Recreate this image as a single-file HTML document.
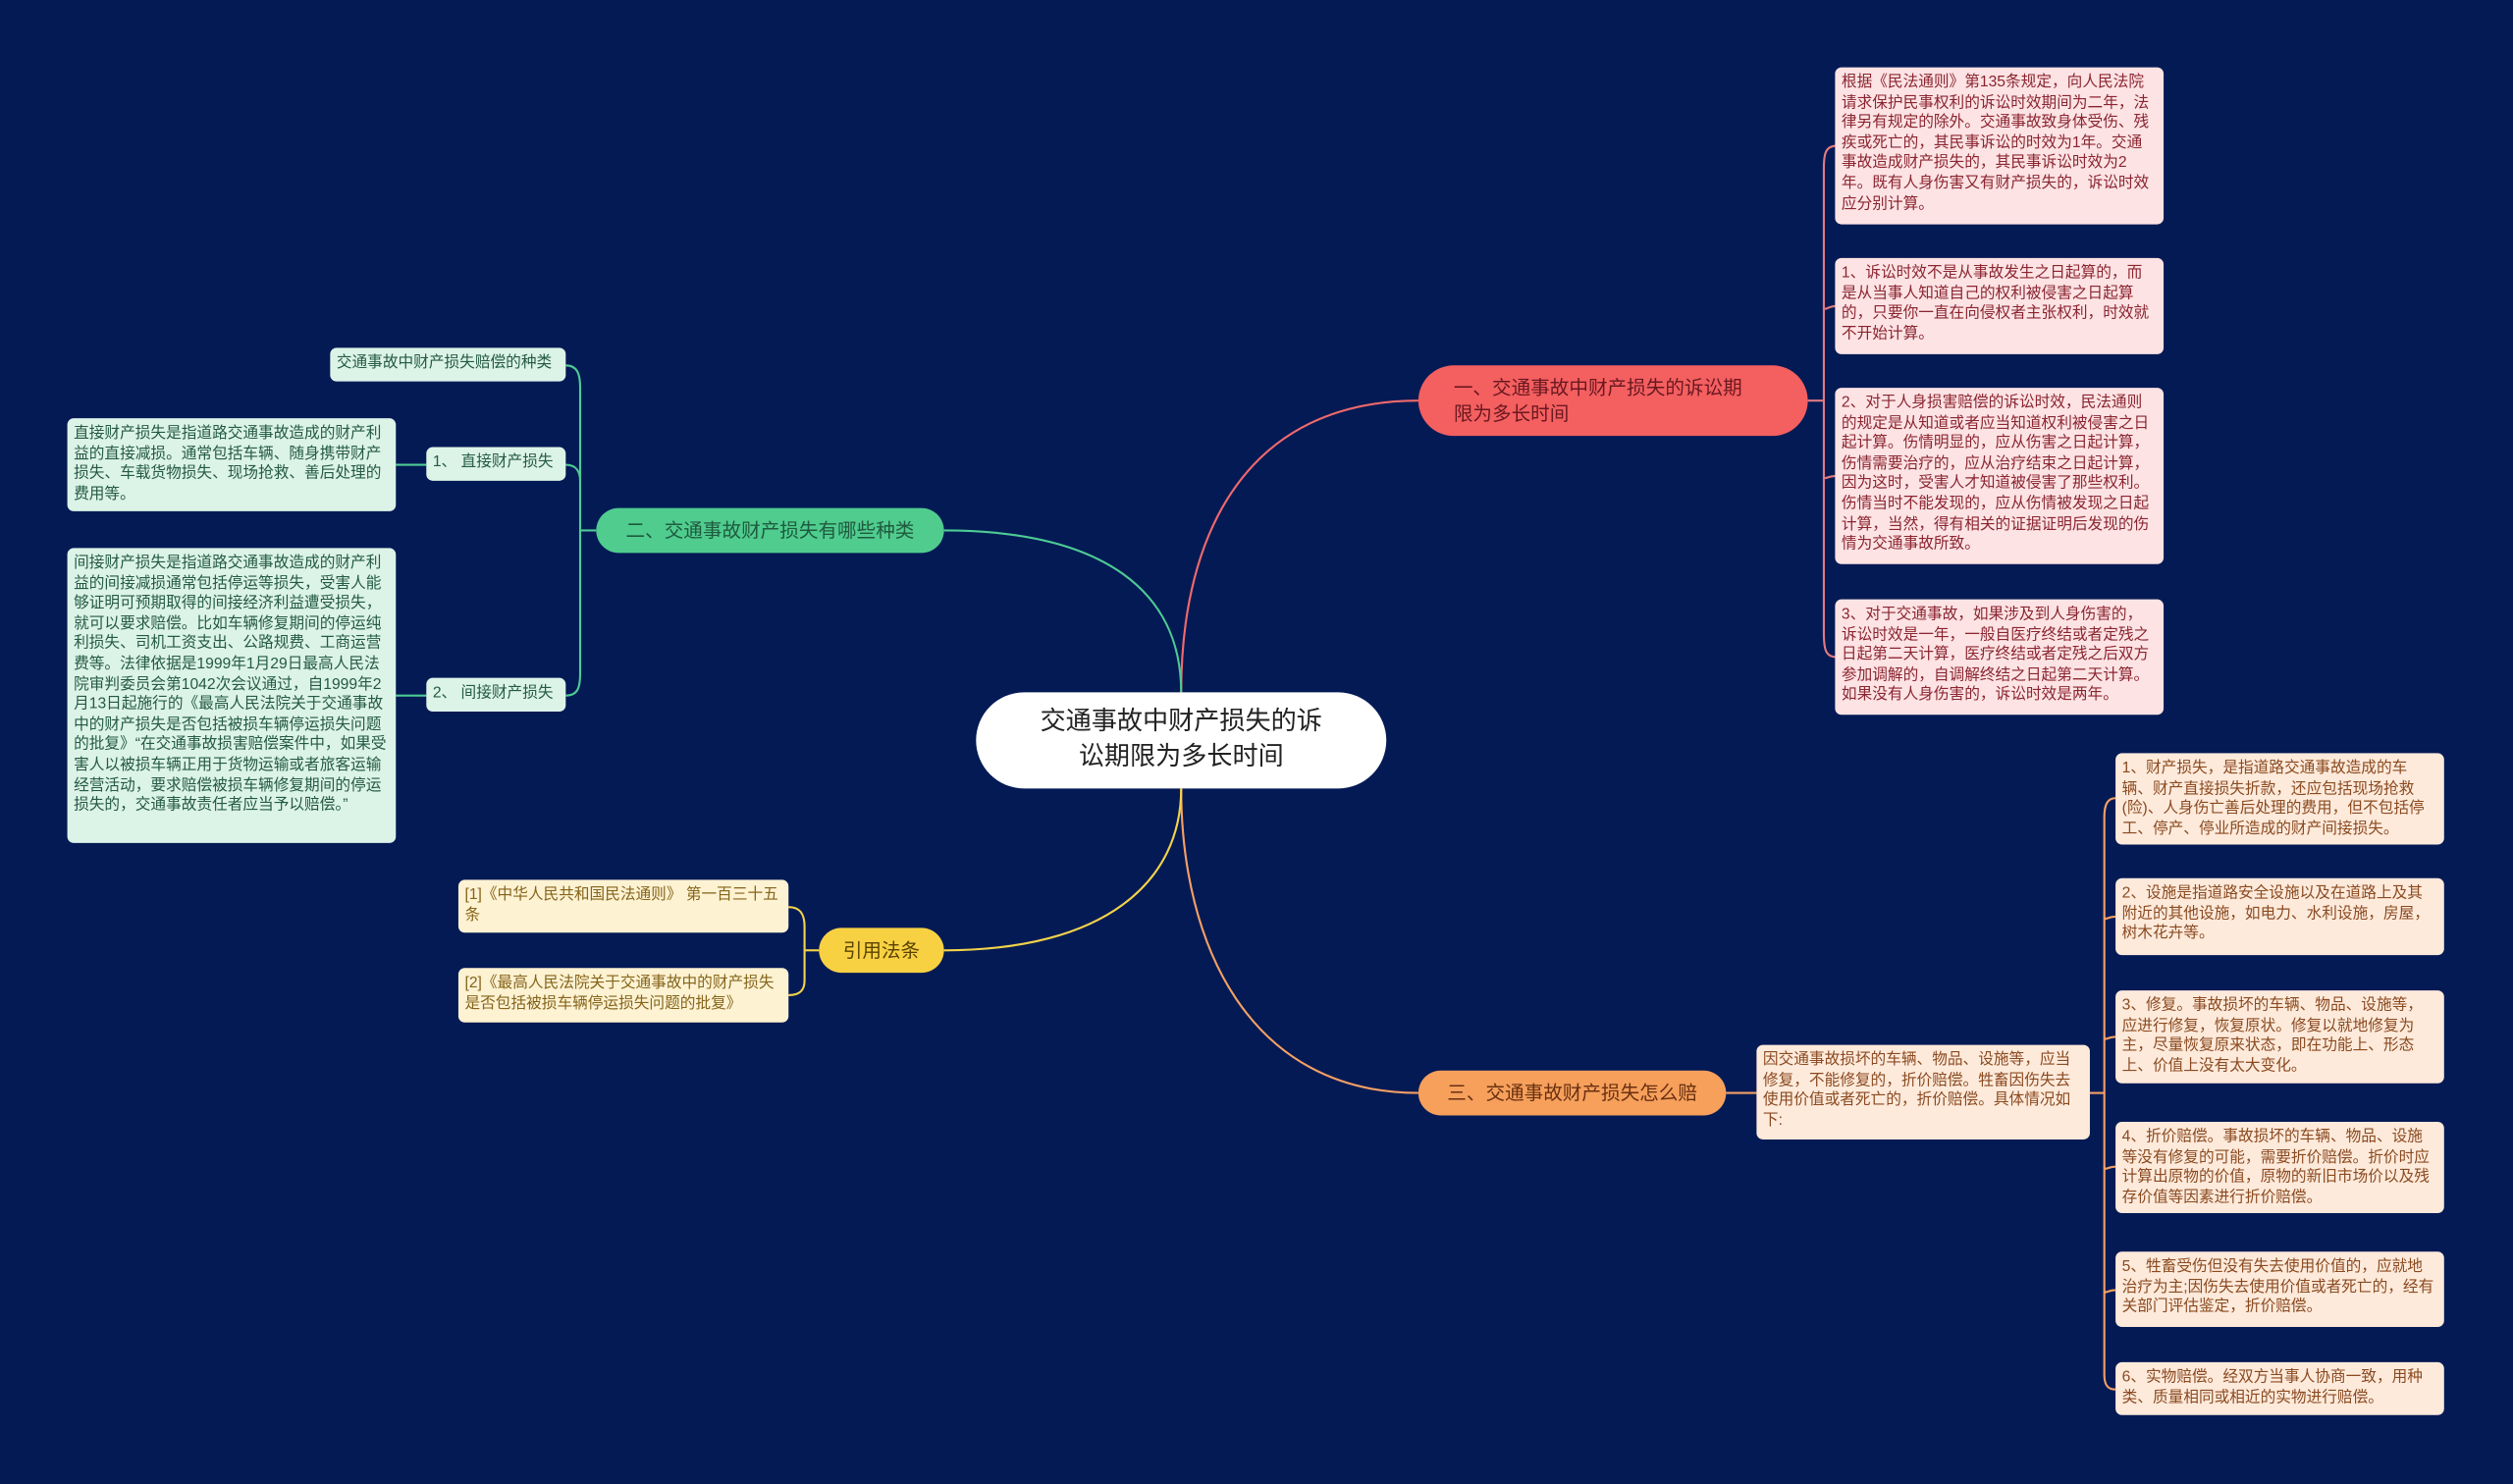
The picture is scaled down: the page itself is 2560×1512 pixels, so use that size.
<!DOCTYPE html>
<html><head><meta charset="utf-8"><style>
html,body{margin:0;padding:0;background:#041a55;}
body{width:2560px;height:1512px;overflow:hidden;}
#w{position:absolute;left:0;top:0;width:1568px;height:926px;transform:scale(1.63265,1.63283);transform-origin:0 0;font-family:"Liberation Sans","Noto Sans CJK SC",sans-serif;}
.b{position:absolute;box-sizing:border-box;border-radius:4px;font-size:9.6px;line-height:12.6px;padding:4px 4px 3px 4px;word-break:break-all;}
.n{white-space:nowrap;}
.p{background:#fde3e4;color:#8a2530;}
.g{background:#dcf3e8;color:#245a44;}
.y{background:#fdf2d2;color:#85641a;}
.o{background:#feeadb;color:#8a4a20;}
.m{position:absolute;box-sizing:border-box;border-radius:16px;font-size:12px;line-height:16px;}
svg{position:absolute;left:0;top:0;}
</style></head><body><div id="w">
<svg width="1568" height="926" fill="none" stroke-width="1.3">
<path d="M737 432 C737 330 780 250 885 250" stroke="#f06a6c"/>
<path d="M737 492 C737 590 780 682 885 682" stroke="#f4a064"/>
<path d="M737 432 C737 370 690 331 589 331" stroke="#4ecb95"/>
<path d="M737 492 C737 550 690 593 589 593" stroke="#f3d34a"/>
<g stroke="#e07a80">
<path d="M1128 250 H1138"/>
<path d="M1146 91 C1139 91 1138 96 1138 105 V395 C1138 405 1139 410 1146 410"/>
<path d="M1138 191 C1138 195 1140 191 1146 191"/>
<path d="M1138 297 C1138 300 1140 297 1146 297"/>
</g>
<g stroke="#4ecb95">
<path d="M372 331 H362"/>
<path d="M353 228 C360 228 362 233 362 242 V420 C362 430 360 434 353 434"/>
<path d="M353 290 C360 290 362 295 362 300"/>
<path d="M247 290 H266"/>
<path d="M247 434 H266"/>
</g>
<g stroke="#f3d34a">
<path d="M511 593 H502"/>
<path d="M492 566 C499 566 502 570 502 578 V612 C502 618 499 621 492 621"/>
</g>
<g stroke="#f4a064">
<path d="M1077 682 H1096"/>
<path d="M1304 682 H1313"/>
<path d="M1320 498 C1315 498 1313 502 1313 510 V858 C1313 864 1315 867 1320 867"/>
<path d="M1313 572 C1313 575 1315 572 1320 572"/>
<path d="M1313 647 C1313 650 1315 647 1320 647"/>
<path d="M1313 728 C1313 731 1315 728 1320 728"/>
<path d="M1313 805 C1313 808 1315 805 1320 805"/>
</g>
</svg>

<div class="m" style="left:609px;top:432px;width:256px;height:60px;border-radius:30px;background:#fff;color:#222;font-size:16px;line-height:22px;text-align:center;padding-top:8px;">交通事故中财产损失的诉<br>讼期限为多长时间</div>

<div class="m" style="left:885px;top:228px;width:243px;height:44px;border-radius:22px;background:#f45f60;color:#6a1820;padding:6px 0 0 22px;">一、交通事故中财产损失的诉讼期<br>限为多长时间</div>
<div class="m" style="left:372px;top:317px;width:217px;height:28px;border-radius:14px;background:#4fcc8e;color:#1f5a3e;text-align:center;padding-top:6px;">二、交通事故财产损失有哪些种类</div>
<div class="m" style="left:511px;top:579px;width:78px;height:28px;border-radius:14px;background:#f7d142;color:#5a4200;text-align:center;padding-top:6px;">引用法条</div>
<div class="m" style="left:885px;top:668px;width:192px;height:28px;border-radius:14px;background:#f6a05c;color:#6a3010;text-align:center;padding-top:6px;">三、交通事故财产损失怎么赔</div>

<div class="b p" style="left:1145px;top:42px;width:205px;height:98px;">根据《民法通则》第135条规定，向人民法院请求保护民事权利的诉讼时效期间为二年，法律另有规定的除外。交通事故致身体受伤、残疾或死亡的，其民事诉讼的时效为1年。交通事故造成财产损失的，其民事诉讼时效为2年。既有人身伤害又有财产损失的，诉讼时效应分别计算。</div>
<div class="b p" style="left:1145px;top:161px;width:205px;height:60px;">1、诉讼时效不是从事故发生之日起算的，而是从当事人知道自己的权利被侵害之日起算的，只要你一直在向侵权者主张权利，时效就不开始计算。</div>
<div class="b p" style="left:1145px;top:242px;width:205px;height:110px;">2、对于人身损害赔偿的诉讼时效，民法通则的规定是从知道或者应当知道权利被侵害之日起计算。伤情明显的，应从伤害之日起计算，伤情需要治疗的，应从治疗结束之日起计算，因为这时，受害人才知道被侵害了那些权利。伤情当时不能发现的，应从伤情被发现之日起计算，当然，得有相关的证据证明后发现的伤情为交通事故所致。</div>
<div class="b p" style="left:1145px;top:374px;width:205px;height:72px;">3、对于交通事故，如果涉及到人身伤害的，诉讼时效是一年，一般自医疗终结或者定残之日起第二天计算，医疗终结或者定残之后双方参加调解的，自调解终结之日起第二天计算。如果没有人身伤害的，诉讼时效是两年。</div>

<div class="b g n" style="left:206px;top:217px;width:147px;height:21px;padding-top:4px;">交通事故中财产损失赔偿的种类</div>
<div class="b g n" style="left:266px;top:279px;width:87px;height:21px;padding-top:4px;">1、 直接财产损失</div>
<div class="b g n" style="left:266px;top:423px;width:87px;height:21px;padding-top:4px;">2、 间接财产损失</div>
<div class="b g" style="left:42px;top:261px;width:205px;height:58px;">直接财产损失是指道路交通事故造成的财产利益的直接减损。通常包括车辆、随身携带财产损失、车载货物损失、现场抢救、善后处理的费用等。</div>
<div class="b g" style="left:42px;top:342px;width:205px;height:184px;">间接财产损失是指道路交通事故造成的财产利益的间接减损通常包括停运等损失，受害人能够证明可预期取得的间接经济利益遭受损失，就可以要求赔偿。比如车辆修复期间的停运纯利损失、司机工资支出、公路规费、工商运营费等。法律依据是1999年1月29日最高人民法院审判委员会第1042次会议通过，自1999年2月13日起施行的《最高人民法院关于交通事故中的财产损失是否包括被损车辆停运损失问题的批复》“在交通事故损害赔偿案件中，如果受害人以被损车辆正用于货物运输或者旅客运输经营活动，要求赔偿被损车辆修复期间的停运损失的，交通事故责任者应当予以赔偿。”</div>

<div class="b y" style="left:286px;top:549px;width:206px;height:33px;">[1]《中华人民共和国民法通则》 第一百三十五条</div>
<div class="b y" style="left:286px;top:604px;width:206px;height:34px;">[2]《最高人民法院关于交通事故中的财产损失是否包括被损车辆停运损失问题的批复》</div>

<div class="b o" style="left:1096px;top:652px;width:208px;height:59px;">因交通事故损坏的车辆、物品、设施等，应当修复，不能修复的，折价赔偿。牲畜因伤失去使用价值或者死亡的，折价赔偿。具体情况如下:</div>
<div class="b o" style="left:1320px;top:470px;width:205px;height:57px;">1、财产损失，是指道路交通事故造成的车辆、财产直接损失折款，还应包括现场抢救(险)、人身伤亡善后处理的费用，但不包括停工、停产、停业所造成的财产间接损失。</div>
<div class="b o" style="left:1320px;top:548px;width:205px;height:48px;">2、设施是指道路安全设施以及在道路上及其附近的其他设施，如电力、水利设施，房屋，树木花卉等。</div>
<div class="b o" style="left:1320px;top:618px;width:205px;height:58px;">3、修复。事故损坏的车辆、物品、设施等，应进行修复，恢复原状。修复以就地修复为主，尽量恢复原来状态，即在功能上、形态上、价值上没有太大变化。</div>
<div class="b o" style="left:1320px;top:700px;width:205px;height:57px;">4、折价赔偿。事故损坏的车辆、物品、设施等没有修复的可能，需要折价赔偿。折价时应计算出原物的价值，原物的新旧市场价以及残存价值等因素进行折价赔偿。</div>
<div class="b o" style="left:1320px;top:781px;width:205px;height:47px;">5、牲畜受伤但没有失去使用价值的，应就地治疗为主;因伤失去使用价值或者死亡的，经有关部门评估鉴定，折价赔偿。</div>
<div class="b o" style="left:1320px;top:850px;width:205px;height:33px;">6、实物赔偿。经双方当事人协商一致，用种类、质量相同或相近的实物进行赔偿。</div>
</div></body></html>
